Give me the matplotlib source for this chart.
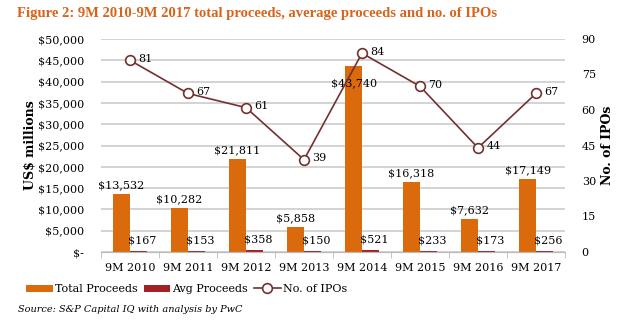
import matplotlib
matplotlib.use("Agg")
import matplotlib.pyplot as plt
import numpy as np

plt.rcParams['font.family'] = ['DejaVu Serif']

years = ['9M 2010', '9M 2011', '9M 2012', '9M 2013', '9M 2014', '9M 2015', '9M 2016', '9M 2017']
total_proceeds = [13532, 10282, 21811, 5858, 43740, 16318, 7632, 17149]
avg_proceeds = [167, 153, 358, 150, 521, 233, 173, 256]
no_ipos = [81, 67, 61, 39, 84, 70, 44, 67]

orange = '#DA6A0B'
dark_red = '#A32024'
line_col = '#73302F'
grid_col = '#D0D0D0'

fig = plt.figure(figsize=(6.27, 3.25), dpi=100)
ax = fig.add_axes([101 / 627, 1 - 252 / 325, 464 / 627, 213 / 325])
ax2 = ax.twinx()

x = np.arange(len(years))
w = 0.29
ax.bar(x - w / 2, total_proceeds, w, color=orange, label='Total Proceeds', zorder=2)
ax.bar(x + w / 2, avg_proceeds, w, color=dark_red, label='Avg Proceeds', zorder=2)

for xi, v in zip(x, total_proceeds):
    if v > 40000:
        # the tallest bar gets its label just inside the top
        ax.annotate('${:,}'.format(v), (xi - w / 2, v), xytext=(0, -9), textcoords='offset points',
                    ha='center', va='top', fontsize=8)
    else:
        ax.annotate('${:,}'.format(v), (xi - w / 2, v), xytext=(0, 3), textcoords='offset points',
                    ha='center', va='bottom', fontsize=8)
for xi, v in zip(x, avg_proceeds):
    ax.annotate('${:,}'.format(v), (xi + w / 2, v), xytext=(3, 4), textcoords='offset points',
                ha='center', va='bottom', fontsize=8)

ax.set_ylim(0, 50000)
ax.set_xlim(-0.5, len(years) - 0.5)
ax.set_yticks(np.arange(0, 50001, 5000))
ax.set_yticklabels(['$-'] + ['${:,}'.format(v) for v in range(5000, 50001, 5000)])
ax.yaxis.grid(True, color=grid_col, linewidth=1.3, zorder=0)
ax.set_axisbelow(True)
ax.set_xticks(x)
ax.set_xticklabels(years)
ax.set_xticks(np.arange(-0.5, len(years)), minor=True)
ax.tick_params(axis='x', which='major', length=0, labelsize=8, pad=8)
ax.tick_params(axis='x', which='minor', length=4, color='#BBBBBB')
ax.tick_params(axis='y', length=0, labelsize=8, pad=12)
ax.set_ylabel('US$ millions', fontsize=9, fontweight='bold', labelpad=1)

ax2.plot(x, no_ipos, color=line_col, linewidth=1.2, marker='o', markersize=7,
         markerfacecolor='white', markeredgecolor=line_col, markeredgewidth=1.2,
         label='No. of IPOs', zorder=3)
for xi, v in zip(x, no_ipos):
    ax2.annotate(str(v), (xi, v), xytext=(6, 1), textcoords='offset points',
                 ha='left', va='center', fontsize=8)
ax2.set_ylim(0, 90)
ax2.set_yticks(np.arange(0, 91, 15))
ax2.tick_params(axis='y', length=0, labelsize=8, pad=12)
ax2.set_ylabel('No. of IPOs', fontsize=9, fontweight='bold', labelpad=4)

for a in (ax, ax2):
    for s in ('top', 'left', 'right'):
        a.spines[s].set_visible(False)
    a.spines['bottom'].set_color('#BBBBBB')

fig.text(17 / 627, 1 - 14 / 325, 'Figure 2: 9M 2010-9M 2017 total proceeds, average proceeds and no. of IPOs',
         color='#D8641B', fontsize=10.5, fontweight='bold', va='center', ha='left',
         family='Liberation Serif')

h1, l1 = ax.get_legend_handles_labels()
h2, l2 = ax2.get_legend_handles_labels()
fig.legend(h1 + h2, l1 + l2, loc='center left', bbox_to_anchor=(22 / 627, 1 - 289 / 325),
           ncol=3, frameon=False, fontsize=8, handlelength=2.4, handleheight=0.6,
           columnspacing=0.5, handletextpad=0.2, borderaxespad=0)

fig.text(18 / 627, 1 - 310 / 325, 'Source: S&P Capital IQ with analysis by PwC',
         fontsize=7, style='italic', va='center', ha='left')

fig.savefig('out.png', dpi=100)
